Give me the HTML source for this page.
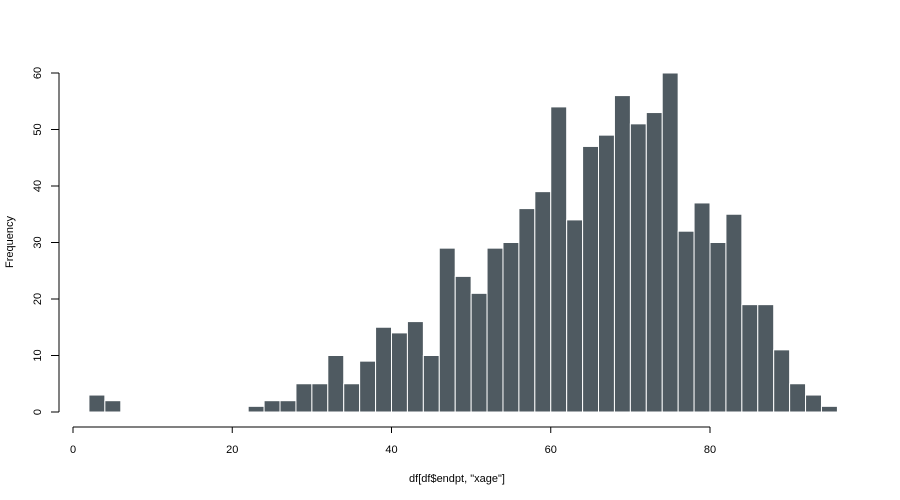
<!DOCTYPE html>
<html><head><meta charset="utf-8"><style>body{margin:0;background:#fff}svg{display:block}text{font-family:"Liberation Sans",sans-serif;font-size:11px;fill:#000}</style></head>
<body>
<svg id="chart" width="900" height="500" viewBox="0 0 900 500">
<g id="bars"></g>
<g id="axes"></g>
<text x="457" y="482" text-anchor="middle">df[df$endpt, "xage"]</text>
<text transform="translate(13,242) rotate(-90)" text-anchor="middle">Frequency</text>
</svg>
<script>
const binStarts=[2,4,6,8,10,12,14,16,18,20,22,24,26,28,30,32,34,36,38,40,42,44,46,48,50,52,54,56,58,60,62,64,66,68,70,72,74,76,78,80,82,84,86,88,90,92,94];
const counts=[3,2,0,0,0,0,0,0,0,0,1,2,2,5,5,10,5,9,15,14,16,10,29,24,21,29,30,36,39,54,34,47,49,56,51,53,60,32,37,30,35,19,19,11,5,3,1];
const binWidth=2;
const xTicks=[0,20,40,60,80];
const yTicks=[0,10,20,30,40,50,60];
const NS="http://www.w3.org/2000/svg";
const x=v=>73+v*(637/80);
const y=v=>412-v*(339/60);
const bars=document.getElementById('bars'),axes=document.getElementById('axes');
function mk(tag,attrs,parent){const e=document.createElementNS(NS,tag);for(const k in attrs)e.setAttribute(k,attrs[k]);parent.appendChild(e);return e;}
binStarts.forEach((b,i)=>{if(counts[i]<=0)return;
const r=mk('rect',{x:x(b),y:y(counts[i]),width:x(b+binWidth)-x(b),height:y(0)-y(counts[i]),fill:'#4f5a61',stroke:'#fff','stroke-width':1},bars);

});
mk('line',{x1:x(0),x2:x(80),y1:427,y2:427,stroke:'#000'},axes);
xTicks.forEach(t=>{mk('line',{x1:x(t),x2:x(t),y1:427,y2:433,stroke:'#000'},axes);
const tx=mk('text',{x:x(t),y:453,'text-anchor':'middle'},axes);tx.textContent=t;

});
mk('line',{x1:59,x2:59,y1:y(0),y2:y(60),stroke:'#000'},axes);
yTicks.forEach(t=>{mk('line',{x1:51,x2:59,y1:y(t),y2:y(t),stroke:'#000'},axes);
const tx=mk('text',{transform:`translate(41,${y(t)}) rotate(-90)`,'text-anchor':'middle'},axes);tx.textContent=t;

});
</script>
</body></html>
